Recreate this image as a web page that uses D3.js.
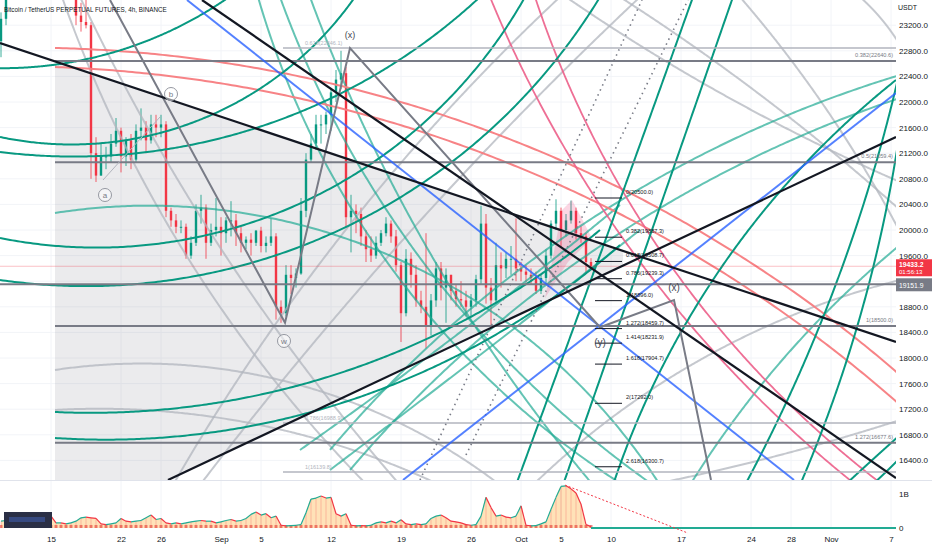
<!DOCTYPE html>
<html><head><meta charset="utf-8">
<script src="https://cdn.jsdelivr.net/npm/d3@7"></script>
<style>
body{margin:0;background:#fff;}
svg{display:block;}
text{font-family:"Liberation Sans",Arial,sans-serif;}
</style></head>
<body><svg id="c" width="932" height="550"></svg>
<script>
// ---------------- DATA ----------------
// 12h candles starting 2022-08-10 00:00 UTC
const candleStart = "2022-08-10T00:00:00Z";
const firstOpen = 22950;
const closes = [23300,23950,24650,24450,24100,24400,24550,24350,24500,24300,24800,24100,24000,23850,24200,23350,23250,23200,
21200,20850,21150,21150,21350,21550,21150,21400,21100,21550,21600,21400,21650,21600,21650,20300,20150,20050,20050,19600,
19800,20300,20350,19800,20000,20050,19950,20150,20150,19950,19800,19850,19800,19990,19750,19800,19900,18800,18700,19300,
19250,19320,20300,21100,21350,21650,21650,21800,22150,22350,22450,20200,20300,20250,19900,19700,19600,19800,19950,20100,
19900,19450,18700,19550,19300,18900,18800,18500,18900,19400,19100,19300,19050,18920,18900,18800,18900,19230,20100,19100,
18900,19450,19400,19550,19550,19400,19350,19300,19250,19050,19250,19600,20100,20300,20000,20150,20300,19950,19900,19500,19433];
const highs = [23400,24100,24900,24800,24500,24500,24900,24800,24700,25000,25200,24900,24250,24200,24400,24300,23550,23600,
23250,21450,21350,21300,21500,21750,21600,21450,21500,21650,21900,21700,21800,21800,21800,21700,20350,20250,20150,20100,
19900,20400,20550,20400,20100,20500,20200,20200,20450,20250,20050,19900,19950,20000,20050,19900,20180,19950,18900,19450,
19450,19400,20500,21200,21500,21800,21800,21850,22200,22500,22800,22550,20550,20400,20350,20000,19900,19900,20000,20200,
20150,20000,19500,19700,19650,19450,19050,19950,19000,19500,19500,19400,19300,19150,19200,19050,19000,19300,20380,20250,
19250,19800,19650,19650,19750,20180,19500,19450,19400,19350,19300,19700,20150,20480,20350,20250,20460,20350,20060,19950,19560];
const lows = [22700,23200,23900,24300,23600,24000,24300,24300,24200,24100,24200,23800,23700,23800,23700,23200,23100,23150,
20800,20750,20850,20950,21050,21300,20900,21000,20950,21050,21400,21200,21350,21450,21450,20200,20050,19950,19950,19550,
19550,19750,20100,19550,19750,19900,19600,19800,19900,19750,19650,19700,19600,19750,19650,19650,19750,18600,18550,18650,
19000,19100,19300,20200,21050,21250,21350,21500,21550,22000,22200,20050,19650,19950,19750,19500,19500,19550,19750,19900,
19800,19350,18250,18650,19100,18800,18700,18150,18350,18800,18900,18550,18900,18800,18800,18650,18650,18800,19150,18850,
18480,18850,19100,19250,19300,19200,19200,19180,19150,19000,19000,19150,19550,20000,19730,19900,20100,19850,19800,19320,19380];
// indicator volume (billions) per 12h bar
const volumes = [0.20,0.22,0.25,0.22,0.20,0.22,0.20,0.25,0.20,0.22,0.35,0.15,0.15,0.12,0.15,0.20,0.30,0.32,0.30,0.28,
0.12,0.10,0.12,0.15,0.28,0.20,0.18,0.20,0.22,0.30,0.38,0.25,0.28,0.15,0.12,0.15,0.12,0.15,0.18,0.20,
0.22,0.20,0.20,0.15,0.18,0.22,0.25,0.20,0.22,0.28,0.40,0.47,0.38,0.42,0.30,0.35,0.08,0.06,0.07,0.08,
0.10,0.45,0.85,0.88,0.94,0.88,0.90,0.42,0.35,0.42,0.08,0.06,0.07,0.06,0.08,0.15,0.18,0.15,0.20,0.15,
0.24,0.12,0.10,0.12,0.10,0.12,0.28,0.35,0.38,0.30,0.20,0.18,0.15,0.10,0.08,0.10,0.35,0.90,0.60,0.35,
0.38,0.32,0.30,0.35,0.65,0.08,0.06,0.07,0.12,0.18,0.55,0.90,1.22,1.24,1.15,1.03,0.70,0.10,0.04];

// axis ticks
const priceTicks = [16400,16800,17200,17600,18000,18400,18800,19200,19600,20000,20400,20800,21200,21600,22000,22400,22800,23200];
const timeTicks = ["2022-08-15","2022-08-22","2022-08-26","2022-09-01","2022-09-05","2022-09-12","2022-09-19","2022-09-26",
"2022-10-01","2022-10-05","2022-10-10","2022-10-17","2022-10-24","2022-10-28","2022-11-01","2022-11-07"];
const timeLabels = ["15","22","26","Sep","5","12","19","26","Oct","5","10","17","24","28","Nov","7"];

// drawings: anchors as [days from 2022-08-15, price]
const blackLines = [[[-5.1,22922],[84.5,18250]],[[15.1,23594],[84.5,16125]],[[11.7,16094],[84.5,21453]]];
const blueLines = [[[13.6,23594],[74.3,16094]],[[35.2,16094],[84.5,22141]]];
const dottedLines = [[[36.9,16094],[59.1,23594]],[[41.5,16484],[63.7,23594]]];
const waveLine = [[5.9,23594],[23.4,18550],[29.9,22844],[54.9,18480],[62.3,18906],[66.0,16094]];
const abLine = [[5.2,20781],[10.9,21766]];
const shadeZone = [[0.4,22641],[57.2,19672],[57.2,19438],[11.7,16094],[0.4,16094]];
const pinkZone = [[49.4,18938],[51.1,20313],[52.1,20469],[54.1,19875],[51.7,19500]];

const darkGreenArcs = [
 [[-6.1,22531],[4.9,22719],[18.1,23672]],
 [[-5.1,21453],[12.9,21609],[30.4,23641]],
 [[-5.1,21219],[24.9,21844],[42.9,23641]],
 [[-5.1,19875],[28.2,20672],[47.4,23641]],
 [[-5.1,19219],[29.9,20078],[54.9,23641]],
 [[46.5,16016],[54.9,19609],[64.2,23641]],
 [[51.2,16016],[59.4,19688],[68.2,23641]],
 [[0.4,17156],[24.9,17578],[54.9,20000]],
 [[0.4,16750],[24.9,17109],[56.9,19766]],
 [[56.2,16016],[64.9,18906],[84.5,22344]],
 [[69.4,16016],[79.9,19766],[84.9,22500]],
 [[74.9,16016],[81.9,19219],[84.9,21563]],
 [[79.4,16016],[81.9,16375],[84.9,16797]],
 [[82.1,16016],[83.9,16281],[84.9,16438]]
];
const tealArcs = [
 [[0.4,20266],[34.9,19531],[60.9,16016]],
 [[20.7,23641],[31.6,19953],[57.2,16016]],
 [[22.9,23641],[34.9,20000],[60.2,16016]],
 [[25.9,23641],[38.9,19375],[54.2,16016]],
 [[27.9,16563],[50.9,19844],[84.9,22422]],
 [[29.9,16250],[52.9,19531],[84.9,22063]],
 [[24.9,16563],[39.9,18281],[56.9,20391]],
 [[27.9,16250],[42.9,18047],[58.9,20000]],
 [[63.9,16016],[74.9,18281],[84.9,19766]]
];
const redArcs = [
 [[0.4,22844],[41.5,21672],[84.9,17734]],
 [[0.4,22547],[41.5,21297],[84.9,17266]]
];
const pinkArcs = [
 [[43.9,23641],[54.9,20391],[80.5,16016]],
 [[48.4,23641],[57.4,20547],[83.2,16016]]
];
const greyArcs = [
 [[1.1,23641],[14.9,19266],[31.6,16016]],
 [[2.9,23641],[18.2,19422],[34.9,16016]],
 [[12.2,16016],[24.9,19063],[50.9,23641]],
 [[14.9,16016],[29.9,18906],[58.9,23641]],
 [[51.5,23641],[68.2,22031],[84.9,20750]],
 [[56.9,23641],[72.9,21875],[84.9,20313]],
 [[68.9,23641],[76.9,22031],[84.9,19969]],
 [[48.2,16016],[64.9,17969],[84.9,19219]],
 [[59.9,16016],[72.9,16484],[84.9,17031]],
 [[0.4,17813],[21.6,17703],[44.9,16016]],
 [[0.4,17188],[18.2,17031],[38.9,16016]],
 [[80.9,23641],[83.9,23125],[84.9,22891]]
];

const darkLevels = [22640.6, 21059.4, 19151.9, 18500.0, 16677.6];
const darkLevelStart = [0.4, 0.4, -5.1, 0.4, 0.4];
const darkLevelText = ["0.382(22640.6)","0.5(21059.4)","","1(18500.0)","1.272(16677.6)"];
const lightLevels = [22844, 16984, 16219];
const lightLevelText = ["0.618(22846.1)","0.786(16988.9)","1(16139.8)"];

const fibRatios = [0,0.382,0.618,0.786,1,1.272,1.414,1.618,2,2.618];
const fibFrom = 20500.0, fibTo = 18896.0;

const lastPrice = 19433.2, countdown = "01:56:13";
const title = "Bitcoin / TetherUS PERPETUAL FUTURES, 4h, BINANCE";

// ---------------- CHART ----------------
const svg = d3.select("#c");
const W = 932, H = 550, PR = 896, MB = 480, VB = 528;
const t0 = Date.parse("2022-08-15T00:00:00Z"), DAY = 864e5;
const x = d3.scaleUtc().domain([new Date(t0 - 5.1*DAY), new Date(t0 + 84.5*DAY)]).range([0, PR]);
const y = d3.scaleLinear().domain([16093.75, 23593.75]).range([MB, 0]);
const yv = d3.scaleLinear().domain([0, 1.41]).range([VB, MB]);
const X = d => x(new Date(t0 + d*DAY));
const P = ([d,p]) => [X(d), y(p)];

svg.append("rect").attr("width",W).attr("height",H).attr("fill","#fff");
const defs = svg.append("defs");
defs.append("clipPath").attr("id","cm").append("rect").attr("x",0).attr("y",0).attr("width",PR).attr("height",MB);
defs.append("clipPath").attr("id","cv").append("rect").attr("x",0).attr("y",MB).attr("width",PR).attr("height",H-MB-14);

// grid
const grid = svg.append("g");
priceTicks.forEach(p => grid.append("line").attr("x1",0).attr("x2",PR).attr("y1",y(p)).attr("y2",y(p)).attr("stroke","#f2f4f8"));
timeTicks.forEach(t => grid.append("line").attr("x1",x(new Date(t))).attr("x2",x(new Date(t))).attr("y1",0).attr("y2",VB).attr("stroke","#f2f4f8"));

const gm = svg.append("g").attr("clip-path","url(#cm)");
const line = d3.line();

// shaded zone
gm.append("path").attr("d", line(shadeZone.map(P)) + "Z").attr("fill","rgba(120,123,134,0.15)");

// candles
const cs = Date.parse(candleStart), step = DAY/2;
const cg = gm.append("g");
closes.forEach((c,i) => {
  const o = i === 0 ? firstOpen : closes[i-1];
  const cx = x(new Date(cs + i*step));
  const col = c >= o ? "#089981" : "#f23645";
  cg.append("line").attr("x1",cx).attr("x2",cx).attr("y1",y(highs[i])).attr("y2",y(lows[i])).attr("stroke",col).attr("stroke-width",0.8);
  const top = y(Math.max(o,c)), bot = y(Math.min(o,c));
  cg.append("rect").attr("x",cx-1.2).attr("y",top).attr("width",2.4).attr("height",Math.max(1,bot-top)).attr("fill",col);
});

// pink zone
gm.append("path").attr("d", line(pinkZone.map(P)) + "Z").attr("fill","rgba(233,30,99,0.18)");

// arc helper: circle through 3 anchors
function arcPath(pts){
  const [A,B,C] = pts.map(P);
  const D = 2*(A[0]*(B[1]-C[1]) + B[0]*(C[1]-A[1]) + C[0]*(A[1]-B[1]));
  if (Math.abs(D) < 1e-6) return line([A,C]);
  const a2=A[0]*A[0]+A[1]*A[1], b2=B[0]*B[0]+B[1]*B[1], c2=C[0]*C[0]+C[1]*C[1];
  const ux=(a2*(B[1]-C[1])+b2*(C[1]-A[1])+c2*(A[1]-B[1]))/D;
  const uy=(a2*(C[0]-B[0])+b2*(A[0]-C[0])+c2*(B[0]-A[0]))/D;
  const r=Math.hypot(A[0]-ux,A[1]-uy);
  const ang=q=>Math.atan2(q[1]-uy,q[0]-ux);
  const TAU=2*Math.PI, nm=a=>((a%TAU)+TAU)%TAU;
  const t1=ang(A), d12=nm(ang(B)-t1), d13=nm(ang(C)-t1);
  const span = d12 < d13 ? d13 : d13 - TAU;
  const out=[]; const n=240;
  for(let i=0;i<=n;i++){const t=t1+span*i/n; out.push([ux+r*Math.cos(t), uy+r*Math.sin(t)]);}
  return line(out);
}
function drawArcs(list, stroke, w, op){
  list.forEach(a => gm.append("path").attr("d",arcPath(a)).attr("fill","none").attr("stroke",stroke).attr("stroke-width",w).attr("stroke-opacity",op));
}
drawArcs(greyArcs, "#b2b5be", 2, 0.75);
drawArcs(tealArcs, "#22ab94", 2, 0.7);
drawArcs(redArcs, "#f77c80", 2, 0.95);
drawArcs(pinkArcs, "#ec5f89", 1.8, 0.9);
drawArcs(darkGreenArcs, "#089981", 2, 1);

// horizontal levels
lightLevels.forEach((p,i) => {
  gm.append("line").attr("x1",X(23.2)).attr("x2",PR).attr("y1",y(p)).attr("y2",y(p)).attr("stroke","#b2b5be").attr("stroke-width",1.5);
  gm.append("text").attr("x",X(25.4)).attr("y",y(p)-3).attr("font-size",5.5).attr("fill","#b2b5be").text(lightLevelText[i]);
});
darkLevels.forEach((p,i) => {
  gm.append("line").attr("x1",X(darkLevelStart[i])).attr("x2",PR).attr("y1",y(p)).attr("y2",y(p)).attr("stroke","#787b86").attr("stroke-width",2);
  if (darkLevelText[i]) gm.append("text").attr("x",PR-3).attr("y",y(p)-4).attr("text-anchor","end").attr("font-size",5.6).attr("fill","#787b86").text(darkLevelText[i]);
});
// last price line
gm.append("line").attr("x1",0).attr("x2",PR).attr("y1",y(lastPrice)).attr("y2",y(lastPrice)).attr("stroke","rgba(242,54,69,0.3)").attr("stroke-width",1);

// straight lines
dottedLines.forEach(l => gm.append("path").attr("d",line(l.map(P))).attr("stroke","#787b86").attr("stroke-width",1.6).attr("stroke-dasharray","1.5,4").attr("fill","none"));
blueLines.forEach(l => gm.append("path").attr("d",line(l.map(P))).attr("stroke","#2962ff").attr("stroke-opacity",0.8).attr("stroke-width",2).attr("fill","none"));
gm.append("path").attr("d",line(abLine.map(P))).attr("stroke","#b2b5be").attr("stroke-width",1).attr("fill","none");
gm.append("path").attr("d",line(waveLine.map(P))).attr("stroke","#787b86").attr("stroke-width",2).attr("fill","none");
blackLines.forEach(l => gm.append("path").attr("d",line(l.map(P))).attr("stroke","#131722").attr("stroke-width",2.2).attr("fill","none"));

// fib ladder
fibRatios.forEach(r => {
  const p = fibFrom - r*(fibFrom - fibTo);
  gm.append("line").attr("x1",X(54.4)).attr("x2",X(57.1)).attr("y1",y(p)).attr("y2",y(p)).attr("stroke","#131722").attr("stroke-width",1);
  gm.append("text").attr("x",X(57.5)).attr("y",y(p)-4).attr("font-size",5.6).attr("fill","#131722").text(`${r}(${p.toFixed(1)})`);
});

// wave labels
function circLabel(d,p,t){
  const [cx,cy]=P([d,p]);
  gm.append("circle").attr("cx",cx).attr("cy",cy).attr("r",6.5).attr("fill","rgba(255,255,255,0.5)").attr("stroke","#9598a1").attr("stroke-width",1);
  gm.append("text").attr("x",cx).attr("y",cy+2.8).attr("text-anchor","middle").attr("font-size",8).attr("fill","#787b86").text(t);
}
circLabel(5.4,20547,"a");
circLabel(12.0,22125,"b");
circLabel(23.3,18266,"w");
function txtLabel(d,p,t,s){
  const [cx,cy]=P([d,p]);
  gm.append("text").attr("x",cx).attr("y",cy+3).attr("text-anchor","middle").attr("font-size",s).attr("fill","#434651").text(t);
}
txtLabel(29.9,23047,"(x)",9);
txtLabel(62.3,19094,"(x)",10);
txtLabel(54.9,18234,"(y)",10);

// ---------------- VOLUME PANE ----------------
const gv = svg.append("g").attr("clip-path","url(#cv)");
const vx = i => x(new Date(cs + i*step));
gv.append("path").attr("d", d3.area().x((v,i)=>vx(i)).y0(VB).y1(v=>yv(v)).curve(d3.curveMonotoneX)(volumes))
  .attr("fill","rgba(255,152,0,0.28)");
volumes.forEach((v,i) => {
  gv.append("line").attr("x1",vx(i)).attr("x2",vx(i)).attr("y1",VB).attr("y2",yv(v)).attr("stroke","rgba(242,54,69,0.25)").attr("stroke-width",1);
  gv.append("rect").attr("x",vx(i)-1.5).attr("y",VB-3).attr("width",3).attr("height",3).attr("fill","rgba(229,57,53,0.6)");
  if (i>0){
    const col = v >= volumes[i-1] ? "#22ab94" : "#f23645";
    gv.append("line").attr("x1",vx(i-1)).attr("x2",vx(i)).attr("y1",yv(volumes[i-1])).attr("y2",yv(v)).attr("stroke",col).attr("stroke-width",1.2);
  }
});
gv.append("line").attr("x1",vx(volumes.length-1)).attr("x2",PR).attr("y1",yv(0)).attr("y2",yv(0)).attr("stroke","#22ab94").attr("stroke-width",2);
gv.append("path").attr("d",line([[X(51.4),yv(1.26)],[X(63.7),yv(-0.15)]])).attr("stroke","#f23645").attr("stroke-dasharray","2,2").attr("stroke-width",1).attr("fill","none");
gv.append("rect").attr("x",4).attr("y",512).attr("width",48).attr("height",16).attr("fill","#2a2f45");
gv.append("rect").attr("x",9).attr("y",517).attr("width",36).attr("height",5).attr("fill","#3f5ca8").attr("opacity",0.6);

// pane separator
svg.append("line").attr("x1",0).attr("x2",W).attr("y1",MB+0.5).attr("y2",MB+0.5).attr("stroke","#e0e3eb");

// ---------------- AXES ----------------
const yl = y(lastPrice), yg = y(darkLevels[2]);
const ay = svg.append("g").attr("transform",`translate(${PR},0)`)
  .call(d3.axisRight(y).tickValues(priceTicks).tickFormat(d=>d.toFixed(1)).tickSize(0).tickPadding(3));
ay.select(".domain").remove();
ay.selectAll("text").attr("font-size",8).attr("fill","#131722").attr("font-family","Liberation Sans, Arial");
// labels hidden behind the price boxes, as on the original scale
ay.selectAll(".tick").filter(d => y(d) > yl - 8 && y(d) < yg + 9).remove();
const av = svg.append("g").attr("transform",`translate(${PR},0)`)
  .call(d3.axisRight(yv).tickValues([0,1]).tickFormat(d=>d===0?"0":"1B").tickSize(0).tickPadding(3));
av.select(".domain").remove();
av.selectAll("text").attr("font-size",8).attr("fill","#131722").attr("font-family","Liberation Sans, Arial");
const ax = svg.append("g").attr("transform",`translate(0,${VB+3})`)
  .call(d3.axisBottom(x).tickValues(timeTicks.map(t=>new Date(t))).tickFormat((d,i)=>timeLabels[i]).tickSize(0).tickPadding(5));
ax.select(".domain").remove();
ax.selectAll("text").attr("font-size",8).attr("fill","#131722").attr("font-family","Liberation Sans, Arial");

svg.append("text").attr("x",PR+2).attr("y",10).attr("font-size",7).attr("fill","#131722").text("USDT");

// price labels on axis
svg.append("rect").attr("x",PR).attr("y",yl-7).attr("width",W-PR).attr("height",17).attr("fill","#f23645");
svg.append("text").attr("x",PR+3).attr("y",yl+0.5).attr("font-size",6.8).attr("font-weight","bold").attr("fill","#fff").text(lastPrice.toFixed(1));
svg.append("text").attr("x",PR+3).attr("y",yl+7.5).attr("font-size",6).attr("fill","#fff").text(countdown);
svg.append("rect").attr("x",PR).attr("y",yg-6).attr("width",W-PR).attr("height",13).attr("fill","#787b86");
svg.append("text").attr("x",PR+3).attr("y",yg+3.5).attr("font-size",6.8).attr("fill","#fff").text(darkLevels[2].toFixed(1));

svg.append("text").attr("x",4).attr("y",11.5).attr("font-size",6.3).attr("fill","#131722").text(title);
</script></body></html>
